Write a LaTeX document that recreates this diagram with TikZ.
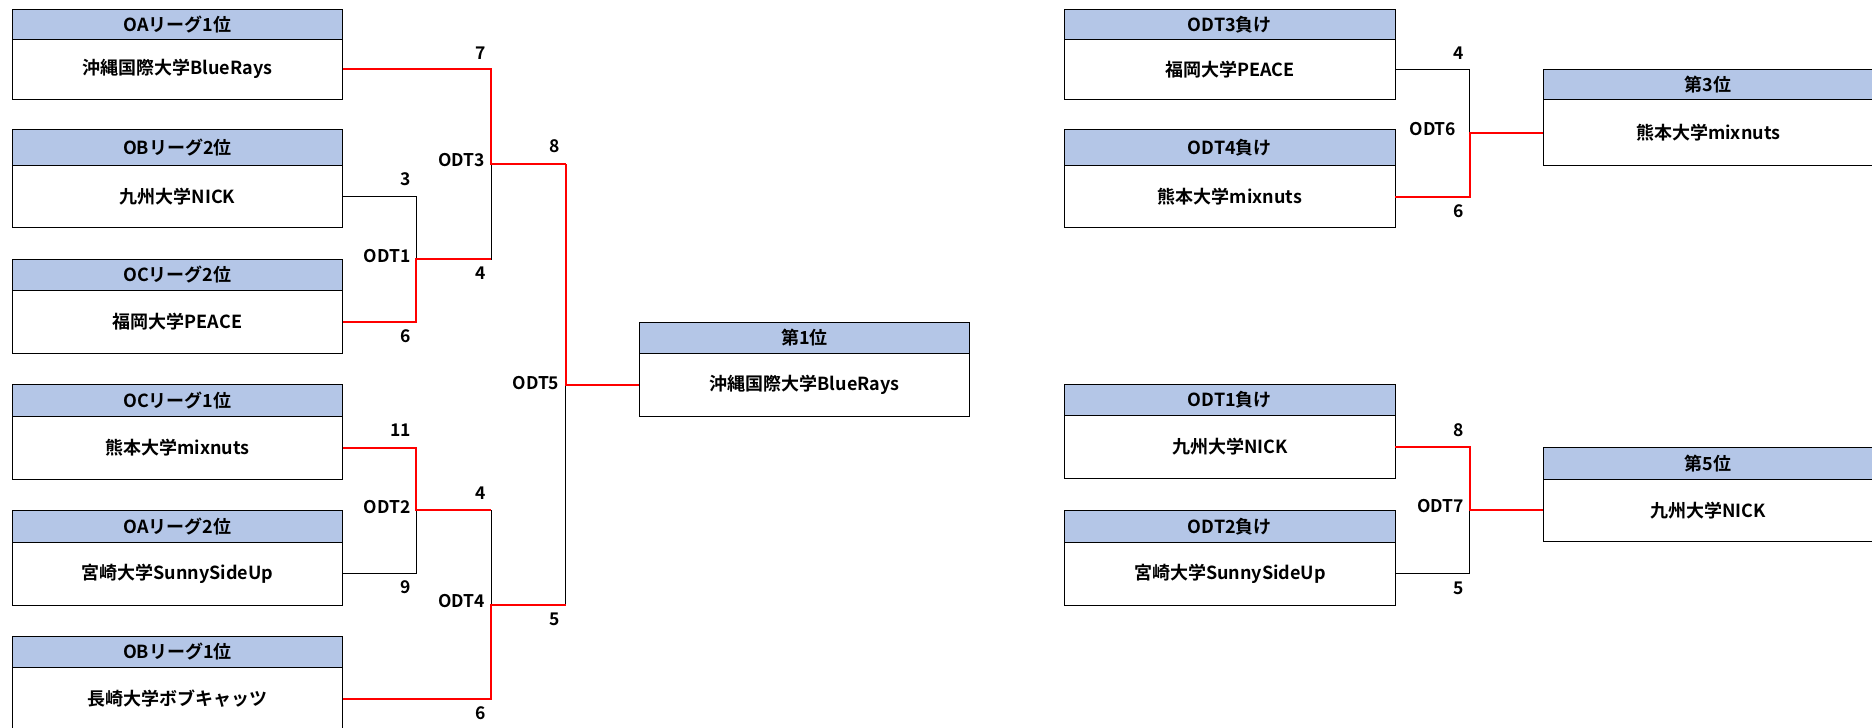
\documentclass[tikz,border=0pt]{standalone}
\usepackage{fontspec}
\setmainfont{Noto Sans CJK JP}[BoldFont={Noto Sans CJK JP Bold}]
\usetikzlibrary{positioning}
\definecolor{kopfblau}{RGB}{180,198,231}
\tikzset{
  kopf/.style={draw, fill=kopfblau, line width=1pt, minimum width=330.5pt, minimum height=31.3pt, inner sep=0pt, outer sep=0pt, anchor=north west, font=\bfseries\fontsize{18}{20}\selectfont},
  feld/.style={draw, line width=1pt, minimum width=330.5pt, minimum height=63pt, inner sep=0pt, outer sep=0pt, below=0pt of #1, font=\bfseries\fontsize{18}{20}\selectfont},
  erg/.style={inner sep=0pt, font=\bfseries\fontsize{17.5}{20}\selectfont},
  linie/.style={black, line width=1pt},
  sieg/.style={red, line width=2pt}
}
\begin{document}
\begin{tikzpicture}[x=1pt, y=-1pt]
\useasboundingbox (0,0) rectangle (1872,728);
\clip (0,0) rectangle (1872,728);
% Turnier
\node[kopf, minimum height=30pt] (oa1k) at (12.2,9.3) {OAリーグ1位};
\node[feld=oa1k, minimum height=59.7pt] (oa1) {沖縄国際大学BlueRays};
\node[kopf, minimum height=35.6pt] (ob2k) at (12.2,129.7) {OBリーグ2位};
\node[feld=ob2k, minimum height=62.4pt] (ob2) {九州大学NICK};
\node[kopf] (oc2k) at (12.2,259) {OCリーグ2位};
\node[feld=oc2k] (oc2) {福岡大学PEACE};
\node[kopf] (oc1k) at (12.2,384.7) {OCリーグ1位};
\node[feld=oc1k] (oc1) {熊本大学mixnuts};
\node[kopf] (oa2k) at (12.2,510.7) {OAリーグ2位};
\node[feld=oa2k] (oa2) {宮崎大学SunnySideUp};
\node[kopf] (ob1k) at (12.2,636) {OBリーグ1位};
\node[feld=ob1k] (ob1) {長崎大学ボブキャッツ};
\node[kopf] (p1k) at (639.3,322) {第1位};
\node[feld=p1k] (p1) {沖縄国際大学BlueRays};

\coordinate (odt1) at (416.4,259.2);
\coordinate (odt2) at (416.4,510.4);
\coordinate (odt3) at (491,164.2);
\coordinate (odt4) at (491,604.6);
\coordinate (odt5) at (565.5,384.6);

\draw[linie] (ob2.east) -| (odt1);
\draw[linie] (odt1) -| (odt3);
\draw[linie] (oa2.east) -| (odt2);
\draw[linie] (odt2) -| (odt4);
\draw[linie] (odt4) -| (odt5);
\draw[sieg] (oc2.east) -| (odt1) -- (odt1 -| odt3);
\draw[sieg] (oa1.east) -| (odt3) -- (odt3 -| odt5);
\draw[sieg] (oc1.east) -| (odt2) -- (odt2 -| odt4);
\draw[sieg] (ob1.east) -| (odt4) -- (odt4 -| odt5);
\draw[sieg] (odt3 -| odt5) -- (odt5) -- (odt5 -| p1.west);

\node[erg] (s7) at (480.3,53) {7};
\node[erg] (s3) at (405.7,179) {3};
\node[erg] (s8) at (554.5,146) {8};
\node[erg, anchor=east] (t3) at (485,159.7) {ODT3};
\node[erg, anchor=east] (t1) at (410.8,256) {ODT1};
\node[erg] (s4a) at (480.3,273) {4};
\node[erg] (s6a) at (405.7,336) {6};
\node[erg, anchor=east] (t5) at (559.5,383) {ODT5};
\node[erg] (s11) at (400.4,430) {11};
\node[erg, anchor=east] (t2) at (410.8,507) {ODT2};
\node[erg] (s4b) at (480.3,493) {4};
\node[erg] (s9) at (405.7,587) {9};
\node[erg, anchor=east] (t4) at (485,601) {ODT4};
\node[erg] (s5) at (554.5,619) {5};
\node[erg] (s6b) at (480.3,713) {6};

% Platzierung
\node[kopf, minimum height=30pt] (v3k) at (1064.7,9.3) {ODT3負け};
\node[feld=v3k, minimum height=59.7pt] (v3) {福岡大学PEACE};
\node[kopf, minimum height=36pt] (v4k) at (1064.7,129.3) {ODT4負け};
\node[feld=v4k, minimum height=62.4pt] (v4) {熊本大学mixnuts};
\node[kopf, minimum height=30pt] (p3k) at (1543,69.3) {第3位};
\node[feld=p3k, minimum height=65.7pt] (p3) {熊本大学mixnuts};
\node[kopf] (v1k) at (1064.7,384.3) {ODT1負け};
\node[feld=v1k] (v1) {九州大学NICK};
\node[kopf] (v2k) at (1064.7,510.7) {ODT2負け};
\node[feld=v2k] (v2) {宮崎大学SunnySideUp};
\node[kopf, minimum height=32pt] (p5k) at (1543,447.3) {第5位};
\node[feld=p5k, minimum height=62pt] (p5) {九州大学NICK};

\coordinate (odt6) at (1469.5,132.5);
\coordinate (odt7) at (1469.5,510.4);

\draw[linie] (v3.east) -| (odt6);
\draw[sieg] (v4.east) -| (odt6) -- (odt6 -| p3.west);
\draw[linie] (v2.east) -| (odt7);
\draw[sieg] (v1.east) -| (odt7) -- (odt7 -| p5.west);

\node[erg] (s4c) at (1459,53) {4};
\node[erg, anchor=east] (t6) at (1456.4,128.8) {ODT6};
\node[erg] (s6c) at (1459,211) {6};
\node[erg] (s8b) at (1459,429.7) {8};
\node[erg, anchor=east] (t7) at (1464,506) {ODT7};
\node[erg] (s5b) at (1459,588) {5};
\end{tikzpicture}
\end{document}
